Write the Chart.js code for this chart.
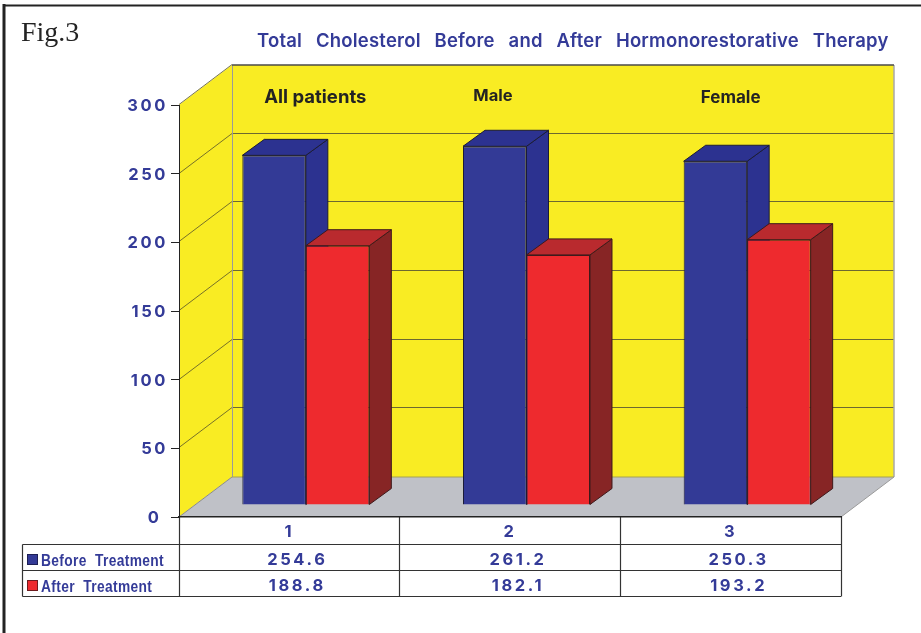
<!DOCTYPE html>
<html>
<head>
<meta charset="utf-8">
<title>Fig.3</title>
<script src="https://cdn.jsdelivr.net/npm/chart.js"></script>
<style>
    body { margin: 0; background: #fff; }
    canvas { display: block; }
</style>
</head>
<body>
<canvas id="chart" width="921" height="633"></canvas>
<script>
// Values as printed in the table under the chart
const categories = ['1', '2', '3'];
const groupNames = ['All patients', 'Male', 'Female'];
const seriesNames = ['Before Treatment', 'After Treatment'];
const beforeValues = [254.6, 261.2, 250.3];
const afterValues = [188.8, 182.1, 193.2];

const BLUE = '#333a96';
const RED = '#ee2a2e';
const INK = '#232323';
const TEXT_BLUE = '#343b98';
const NUM_FONT = '700 16.5px Inter';

// 3D offsets in px
const WALL = { dx: 53, dy: -40 };   // front plane to back wall
const BAR_SHIFT = { dx: 16.5, dy: -12 };   // bars stand inside the floor
const BAR_DEPTH = { dx: 22, dy: -16 };

// Extra styling per series for the 3D faces
const faces = [
    { top: '#2c3290', side: '#2c3290', edge: '#1b1c38' },
    { top: '#b92a2e', side: '#872525', edge: '#3e1a1b' }
];

function poly(ctx, pts, fill, stroke, lw) {
    ctx.beginPath();
    pts.forEach((p, i) => i ? ctx.lineTo(p[0], p[1]) : ctx.moveTo(p[0], p[1]));
    ctx.closePath();
    if (fill) {
        ctx.fillStyle = fill;
        ctx.fill();
    }
    if (stroke) {
        ctx.strokeStyle = stroke;
        ctx.lineWidth = lw || 1;
        ctx.stroke();
    }
}

function line(ctx, x1, y1, x2, y2, color, lw) {
    ctx.beginPath();
    ctx.moveTo(x1, y1);
    ctx.lineTo(x2, y2);
    ctx.strokeStyle = color;
    ctx.lineWidth = lw || 1;
    ctx.stroke();
}

function text(ctx, str, x, y, font, color, align, spacing, wordSpacing) {
    ctx.font = font;
    ctx.fillStyle = color;
    ctx.textAlign = align || 'left';
    ctx.textBaseline = 'alphabetic';
    ctx.letterSpacing = spacing || '0px';
    ctx.wordSpacing = wordSpacing || '0px';
    ctx.fillText(str, x, y);
    ctx.letterSpacing = '0px';
    ctx.wordSpacing = '0px';
}

function drawFrame(ctx) {
    line(ctx, 4, 4, 4, 633, INK, 3);
    line(ctx, 3, 5.5, 921, 5.5, INK, 2);
}

function drawWalls(chart) {
    const ctx = chart.ctx;
    const { x, y } = chart.scales;
    const l = x.left, r = x.right, t = y.top, b = y.bottom;

    // back wall, side wall, floor
    poly(ctx, [[l + WALL.dx, t + WALL.dy], [r + WALL.dx, t + WALL.dy], [r + WALL.dx, b + WALL.dy], [l + WALL.dx, b + WALL.dy]], '#f9ec23');
    poly(ctx, [[l, t], [l + WALL.dx, t + WALL.dy], [l + WALL.dx, b + WALL.dy], [l, b]], '#f9ec23');
    poly(ctx, [[l, b], [r, b], [r + WALL.dx, b + WALL.dy], [l + WALL.dx, b + WALL.dy]], '#bfc1c7');

    // grid lines follow the walls
    y.ticks.forEach(tick => {
        const py = Math.round(y.getPixelForValue(tick.value)) - 0.5;
        if (tick.value > 0 && tick.value < 300) {
            line(ctx, l + WALL.dx, py + WALL.dy, r + WALL.dx, py + WALL.dy, '#6d6830', 1.2);
        }
        if (tick.value > 0) {
            line(ctx, l, py, l + WALL.dx, py + WALL.dy, '#55522a', 0.8);
        }
    });

    // wall edges
    line(ctx, l + WALL.dx + 0.5, t + WALL.dy, l + WALL.dx + 0.5, b + WALL.dy, '#9a9a9a', 1);
    line(ctx, r + WALL.dx, t + WALL.dy, r + WALL.dx, b + WALL.dy, '#a8a8a8', 1.5);
    line(ctx, l + WALL.dx, t + WALL.dy, r + WALL.dx, t + WALL.dy, '#4a4a4a', 1.5);
    line(ctx, l + WALL.dx, b + WALL.dy, r + WALL.dx, b + WALL.dy, '#a5a255', 1);
    line(ctx, l, b, l + WALL.dx, b + WALL.dy, '#8a8a8a', 1);
    line(ctx, r, b, r + WALL.dx, b + WALL.dy, '#9a9a9a', 1);
}

function drawTable(chart) {
    const ctx = chart.ctx;
    const { x, y } = chart.scales;
    const b = y.bottom;
    const rows = [544.5, 570.5, 596.5];
    const tableLeft = 22.5;
    const bounds = [x.left, (x.getPixelForTick(0) + x.getPixelForTick(1)) / 2, (x.getPixelForTick(1) + x.getPixelForTick(2)) / 2, x.right];

    rows.forEach(ry => line(ctx, tableLeft, ry, x.right, ry, '#333', 1.2));
    bounds.forEach(bx => line(ctx, Math.floor(bx) + 0.5, b, Math.floor(bx) + 0.5, rows[2], '#333', 1.2));
    line(ctx, tableLeft, rows[0], tableLeft, rows[2], '#333', 1.2);

    [beforeValues, afterValues].forEach((values, s) => {
        const rowTop = rows[s];
        const keyY = rowTop + 10;
        ctx.fillStyle = s ? RED : BLUE;
        ctx.fillRect(27.5, keyY, 10, 10);
        ctx.strokeStyle = s ? '#6e1b1e' : '#1d1f55';
        ctx.lineWidth = 1;
        ctx.strokeRect(27.5, keyY, 10, 10);

        // the key labels are set in a condensed face, so squeeze them sideways
        ctx.save();
        ctx.translate(41, rowTop + 21.5);
        ctx.scale(0.86, 1);
        text(ctx, seriesNames[s], 0, 0, 'bold 16px "Liberation Sans"', TEXT_BLUE, 'left', '0.4px', '5px');
        ctx.restore();

        values.forEach((v, i) => {
            text(ctx, v.toFixed(1), x.getPixelForTick(i) + 8, rowTop + 20, NUM_FONT, TEXT_BLUE, 'center', '2.6px');
        });
    });
}

function drawBarFaces(chart) {
    const ctx = chart.ctx;
    [0, 1].forEach(s => {
        const style = faces[s];
        chart.getDatasetMeta(s).data.forEach(bar => {
            const l = bar.x - bar.width / 2 + BAR_SHIFT.dx;
            const r = bar.x + bar.width / 2 + BAR_SHIFT.dx;
            const t = bar.y + BAR_SHIFT.dy;
            const b = bar.base + BAR_SHIFT.dy;
            const d = BAR_DEPTH;
            poly(ctx, [[r, t], [r + d.dx, t + d.dy], [r + d.dx, b + d.dy], [r, b]], style.side, style.edge);
            poly(ctx, [[l, t], [l + d.dx, t + d.dy], [r + d.dx, t + d.dy], [r, t]], style.top, style.edge);
        });
    });
}

const cubePlugin = {
    id: 'cube',
    beforeDraw(chart) {
        const ctx = chart.ctx;
        const { x } = chart.scales;
        ctx.save();
        drawFrame(ctx);
        drawWalls(chart);
        drawTable(chart);

        text(ctx, 'Fig.3', 21, 41, '28px "Liberation Serif"', INK);
        text(ctx, 'Total Cholesterol Before and After Hormonorestorative Therapy', 257, 47, '600 18.5px Inter', TEXT_BLUE, 'left', '0.2px', '9px');

        // group captions float on the back wall
        const captionShift = [26, -17, 0];
        const captionY = [103, 101, 103];
        const captionSize = [18.5, 16.5, 17];
        groupNames.forEach((name, i) => {
            text(ctx, name, x.getPixelForTick(i) + captionShift[i], captionY[i], `700 ${captionSize[i]}px Inter`, INK, 'center');
        });
        ctx.restore();
        // picked up by the axis tick labels drawn next
        ctx.letterSpacing = '2.6px';
    },
    beforeDatasetsDraw(chart) {
        chart.ctx.letterSpacing = '0px';
        drawBarFaces(chart);
    },
    beforeDatasetDraw(chart) {
        chart.ctx.save();
        chart.ctx.translate(BAR_SHIFT.dx, BAR_SHIFT.dy);
    },
    afterDatasetDraw(chart) {
        chart.ctx.restore();
    }
};

new Chart(document.getElementById('chart').getContext('2d'), {
    type: 'bar',
    data: {
        labels: categories,
        datasets: [
            { label: seriesNames[0], data: beforeValues, backgroundColor: BLUE, borderColor: faces[0].edge, borderWidth: 1, clip: false },
            { label: seriesNames[1], data: afterValues, backgroundColor: RED, borderColor: faces[1].edge, borderWidth: 1, clip: false }
        ]
    },
    options: {
        responsive: false,
        animation: false,
        categoryPercentage: 0.5755,
        barPercentage: 1,
        layout: { autoPadding: false, padding: { top: 105, right: 80, left: 0, bottom: 0 } },
        plugins: {
            legend: { display: false },
            title: { display: false },
            tooltip: { enabled: false }
        },
        scales: {
            x: {
                afterFit: scale => { scale.height = 116; },
                grid: { display: false },
                border: { display: true, color: INK, width: 1.5 },
                ticks: { color: TEXT_BLUE, font: { family: 'Inter', size: 16.5, weight: '700' }, padding: -3, maxRotation: 0 }
            },
            y: {
                min: 0,
                max: 300,
                afterFit: scale => { scale.width = 179; },
                grid: { drawOnChartArea: false, tickLength: 8, color: INK },
                border: { display: true, color: INK },
                ticks: {
                    stepSize: 50,
                    color: TEXT_BLUE,
                    font: { family: 'Inter', size: 16.5, weight: '700' },
                    padding: 3,
                    labelOffset: 1,
                    // the printed 0 sits a little left of the column
                    callback: v => (v === 0 ? '0 ' : String(v))
                }
            }
        }
    },
    plugins: [cubePlugin]
});
</script>
</body>
</html>
